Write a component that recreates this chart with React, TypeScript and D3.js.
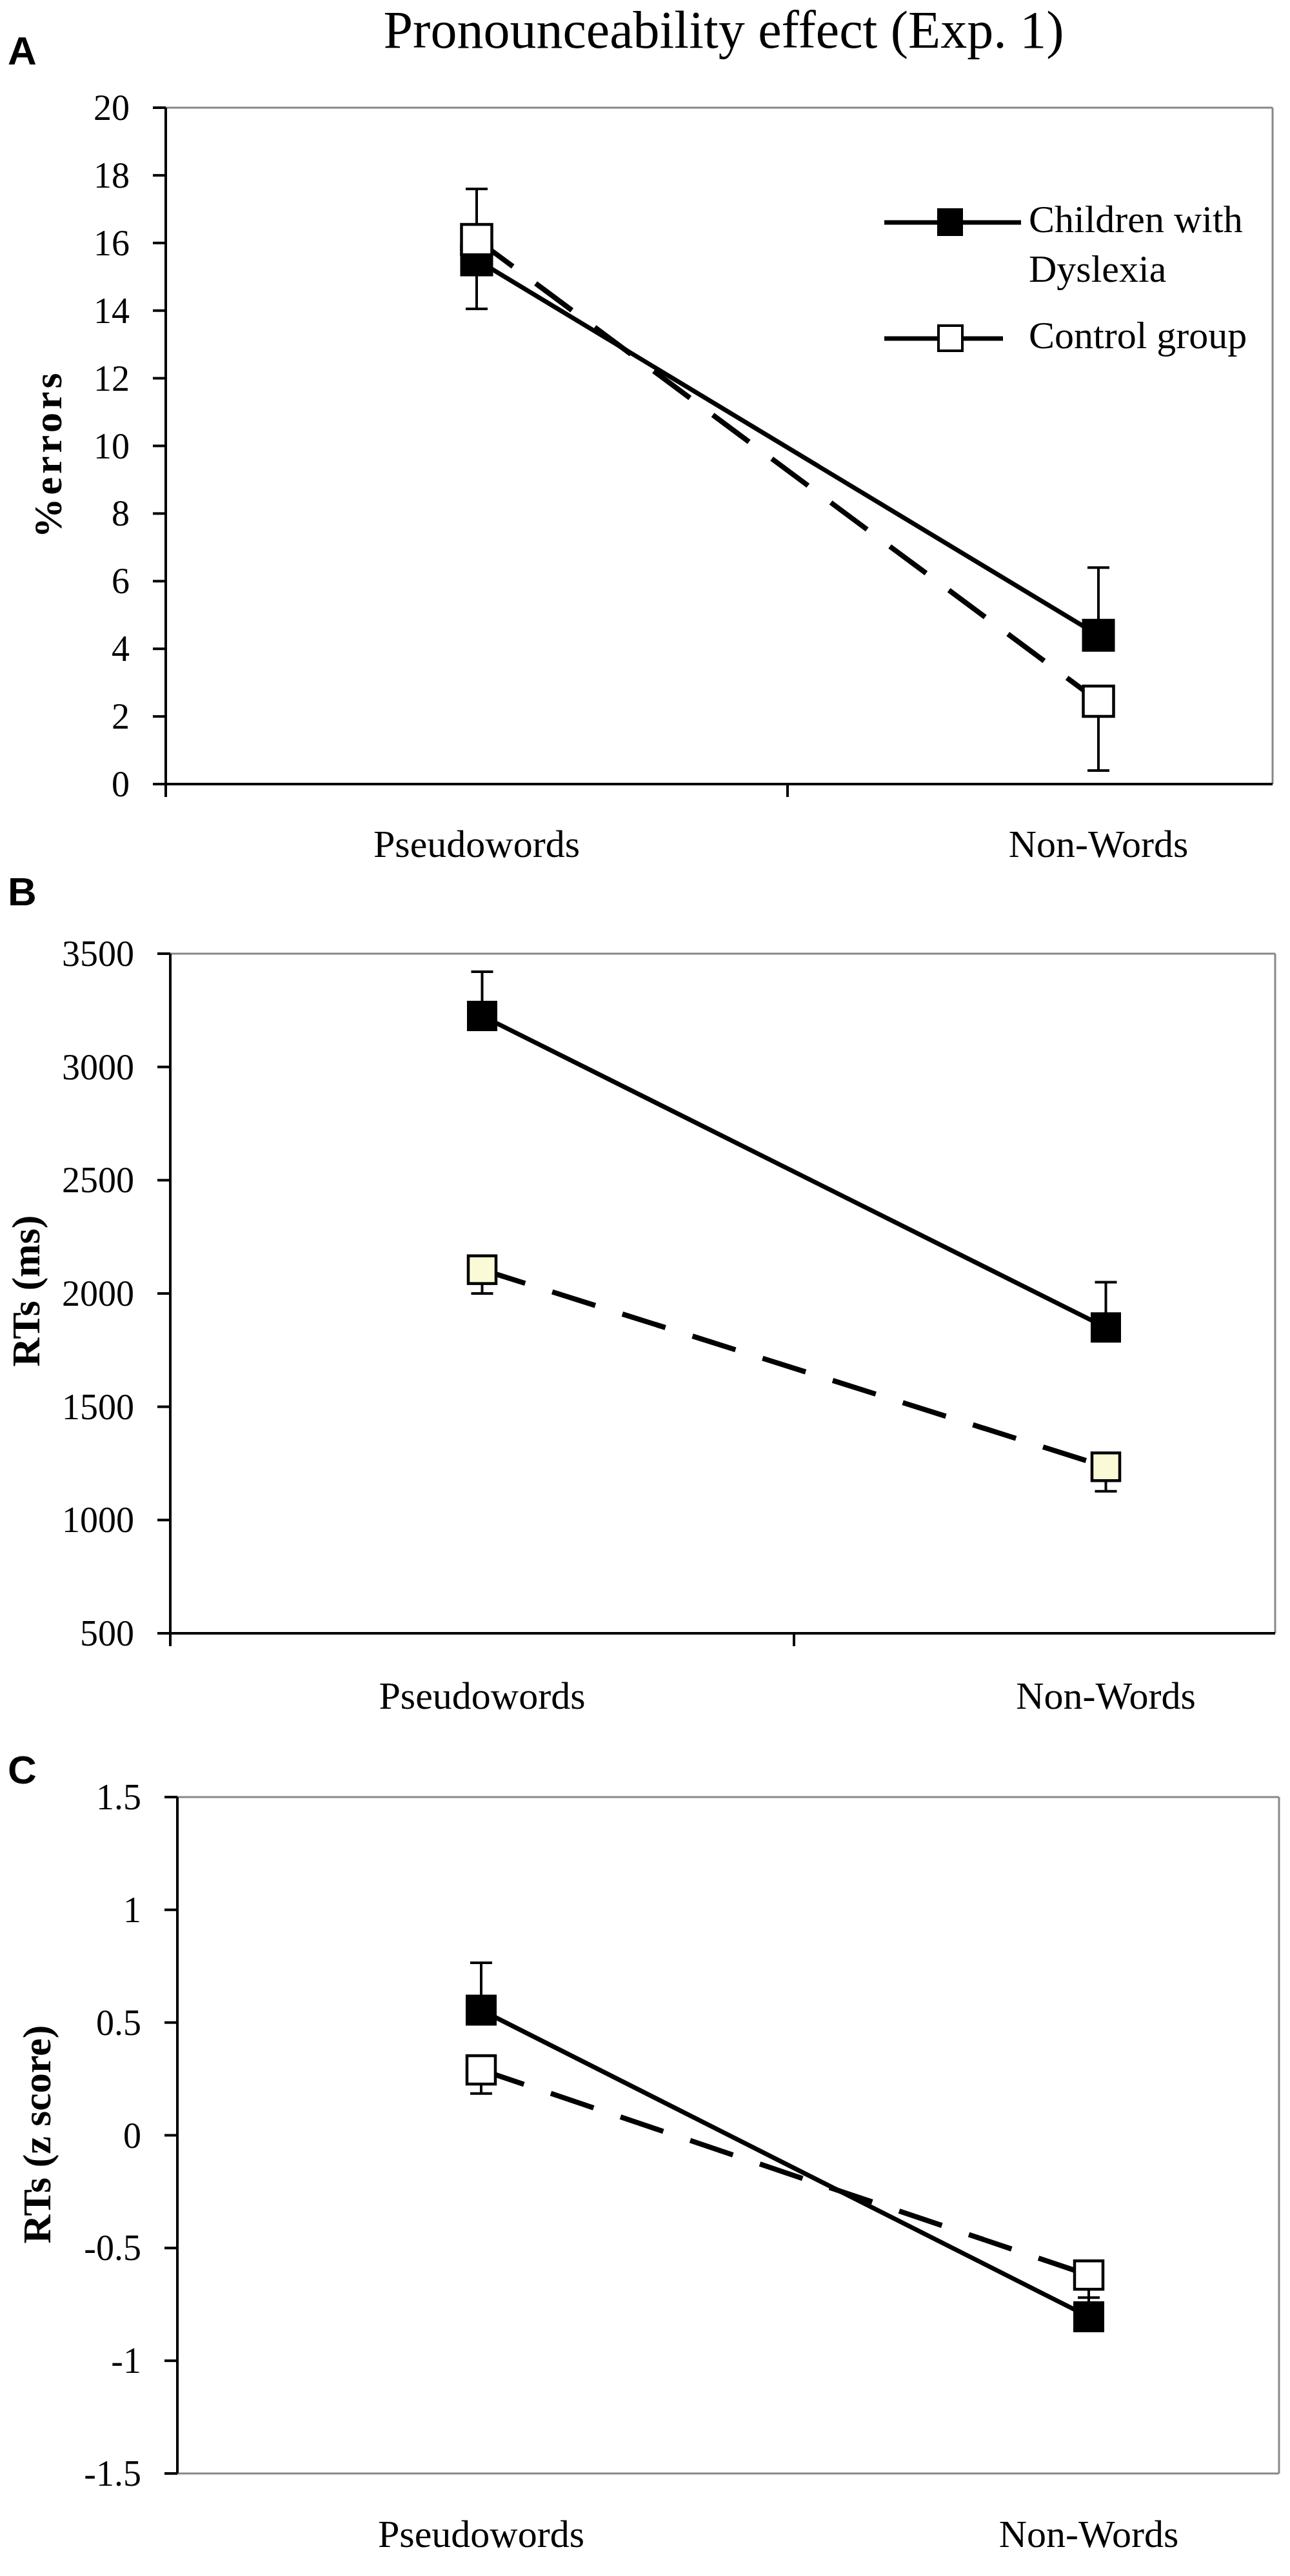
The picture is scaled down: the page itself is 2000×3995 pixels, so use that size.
import React from "react";
import * as d3 from "d3";

// ---------- data ----------
const categories = ["Pseudowords", "Non-Words"];
const chartTitle = "Pronounceability effect (Exp. 1)";
const legendDyslexiaLines = ["Children with", "Dyslexia"];
const legendControl = "Control group";

// Panel A: % errors
const errorsDyslexia = [15.5, 4.4];
const errorsDyslexiaPlus = [2.1, 2.0];
const errorsControl = [16.1, 2.45];
const errorsControlMinus = [2.05, 2.05];
const errorsTicks = [0, 2, 4, 6, 8, 10, 12, 14, 16, 18, 20];

// Panel B: RTs (ms)
const rtDyslexia = [3225, 1850];
const rtDyslexiaPlus = [195, 200];
const rtControl = [2105, 1235];
const rtControlMinus = [105, 108];
const rtTicks = [500, 1000, 1500, 2000, 2500, 3000, 3500];

// Panel C: RTs (z score)
const zDyslexia = [0.555, -0.805];
const zDyslexiaPlus = [0.21, 0.145];
const zControl = [0.29, -0.62];
const zControlMinus = [0.105, 0.1];
const zTicks = [-1.5, -1, -0.5, 0, 0.5, 1, 1.5];

const SERIF = "'Liberation Serif', 'Times New Roman', serif";
const SANS = "'Liberation Sans', Arial, sans-serif";

type PanelCfg = {
  letter: string;
  letterY: number;
  yTitle: string;
  yTitleX: number;
  yTitleY: number;
  yTitleSpacing: number;
  domain: [number, number];
  yBottom: number;
  yTop: number;
  xLeft: number;
  xRight: number;
  halfStep: number;
  catTicks: boolean;
  labelBaseline: number;
  ticks: number[];
  dys: number[];
  dysPlus: number[];
  ctl: number[];
  ctlMinus: number[];
  ctlFill: string;
  marker: number;
  legend: boolean;
};

const panels: PanelCfg[] = [
  {
    letter: "A", letterY: 100, yTitle: "%errors", yTitleX: 74, yTitleY: 704, yTitleSpacing: 5,
    domain: [0, 20], yBottom: 1216, yTop: 167, xLeft: 257, xRight: 1973, halfStep: 482,
    catTicks: true, labelBaseline: 1329, ticks: errorsTicks,
    dys: errorsDyslexia, dysPlus: errorsDyslexiaPlus, ctl: errorsControl, ctlMinus: errorsControlMinus,
    ctlFill: "#ffffff", marker: 51, legend: true,
  },
  {
    letter: "B", letterY: 1404, yTitle: "RTs (ms)", yTitleX: 40, yTitleY: 2002, yTitleSpacing: 0,
    domain: [500, 3500], yBottom: 2533, yTop: 1479, xLeft: 264, xRight: 1977, halfStep: 483.5,
    catTicks: true, labelBaseline: 2650, ticks: rtTicks,
    dys: rtDyslexia, dysPlus: rtDyslexiaPlus, ctl: rtControl, ctlMinus: rtControlMinus,
    ctlFill: "#fafad6", marker: 47, legend: false,
  },
  {
    letter: "C", letterY: 2766, yTitle: "RTs (z score)", yTitleX: 57, yTitleY: 3310, yTitleSpacing: 0,
    domain: [-1.5, 1.5], yBottom: 3836, yTop: 2787, xLeft: 275, xRight: 1983, halfStep: 471,
    catTicks: false, labelBaseline: 3950, ticks: zTicks,
    dys: zDyslexia, dysPlus: zDyslexiaPlus, ctl: zControl, ctlMinus: zControlMinus,
    ctlFill: "#ffffff", marker: 48, legend: false,
  },
];

function Panel({ p }: { p: PanelCfg }) {
  const y = d3.scaleLinear().domain(p.domain).range([p.yBottom, p.yTop]);
  const x = d3
    .scaleBand<string>()
    .domain(categories)
    .range([p.xLeft, p.xLeft + 4 * p.halfStep])
    .paddingInner(0)
    .paddingOuter(0);
  const cx = (c: string) => (x(c) as number) + x.bandwidth() / 2;
  const line = d3.line<[number, number]>().x((d) => d[0]).y((d) => d[1]);
  const fmt = (t: number) => String(t);

  const dysPts: [number, number][] = categories.map((c, i) => [cx(c), y(p.dys[i])]);
  const ctlPts: [number, number][] = categories.map((c, i) => [cx(c), y(p.ctl[i])]);
  const ms = p.marker;
  const cap = 17;

  const boundaries = [0, 1, 2]
    .map((k) => p.xLeft + k * 2 * p.halfStep)
    .filter((v) => v <= p.xRight);

  return (
    <g>
      <text x={12} y={p.letterY} fontFamily={SANS} fontWeight="bold" fontSize={62} fill="#000">
        {p.letter}
      </text>

      <line x1={p.xLeft} x2={p.xRight} y1={p.yTop} y2={p.yTop} stroke="#888" strokeWidth={3} />
      <line x1={p.xRight} x2={p.xRight} y1={p.yTop} y2={p.yBottom} stroke="#888" strokeWidth={3} />
      {!p.catTicks && (
        <line x1={p.xLeft} x2={p.xRight} y1={p.yBottom} y2={p.yBottom} stroke="#888" strokeWidth={3} />
      )}

      <line x1={p.xLeft} x2={p.xLeft} y1={p.yTop} y2={p.yBottom} stroke="#000" strokeWidth={4} />
      {p.ticks.map((t) => (
        <g key={t}>
          <line x1={p.xLeft - 20} x2={p.xLeft} y1={y(t)} y2={y(t)} stroke="#000" strokeWidth={4} />
          <text
            x={p.xLeft - 56}
            y={y(t)}
            dy="0.34em"
            textAnchor="end"
            fontFamily={SERIF}
            fontSize={56}
            fill="#000"
          >
            {fmt(t)}
          </text>
        </g>
      ))}

      {p.catTicks && (
        <g>
          <line x1={p.xLeft - 2} x2={p.xRight} y1={p.yBottom} y2={p.yBottom} stroke="#000" strokeWidth={4} />
          {boundaries.map((b) => (
            <line key={b} x1={b} x2={b} y1={p.yBottom} y2={p.yBottom + 20} stroke="#000" strokeWidth={4} />
          ))}
        </g>
      )}
      {categories.map((c) => (
        <text
          key={c}
          x={cx(c)}
          y={p.labelBaseline}
          textAnchor="middle"
          fontFamily={SERIF}
          fontSize={60}
          fill="#000"
        >
          {c}
        </text>
      ))}

      <text
        transform={`translate(${p.yTitleX},${p.yTitleY}) rotate(-90)`}
        textAnchor="middle"
        dominantBaseline="central"
        fontFamily={SERIF}
        fontWeight="bold"
        fontSize={62}
        letterSpacing={p.yTitleSpacing}
        fill="#000"
      >
        {p.yTitle}
      </text>

      <path d={line(dysPts) || ""} fill="none" stroke="#000" strokeWidth={7} />
      {categories.map((c, i) => {
        const xc = cx(c);
        const yTopErr = y(p.dys[i] + p.dysPlus[i]);
        return (
          <g key={"d" + c}>
            <line x1={xc} x2={xc} y1={y(p.dys[i])} y2={yTopErr} stroke="#000" strokeWidth={4} />
            <line x1={xc - cap} x2={xc + cap} y1={yTopErr} y2={yTopErr} stroke="#000" strokeWidth={4} />
            <rect x={xc - ms / 2} y={y(p.dys[i]) - ms / 2} width={ms} height={ms} fill="#000" />
          </g>
        );
      })}

      <path
        d={line(ctlPts) || ""}
        fill="none"
        stroke="#000"
        strokeWidth={8}
        strokeDasharray="70 44"
      />
      {categories.map((c, i) => {
        const xc = cx(c);
        const yBotErr = y(p.ctl[i] - p.ctlMinus[i]);
        return (
          <g key={"c" + c}>
            <line x1={xc} x2={xc} y1={y(p.ctl[i])} y2={yBotErr} stroke="#000" strokeWidth={4} />
            <line x1={xc - cap} x2={xc + cap} y1={yBotErr} y2={yBotErr} stroke="#000" strokeWidth={4} />
            <rect
              x={xc - ms / 2 + 2}
              y={y(p.ctl[i]) - ms / 2 + 2}
              width={ms - 4}
              height={ms - 4}
              fill={p.ctlFill}
              stroke="#000"
              strokeWidth={4.5}
            />
          </g>
        );
      })}

      {p.legend && (
        <g>
          <line x1={1371} x2={1583} y1={345} y2={345} stroke="#000" strokeWidth={7} />
          <rect x={1453} y={323} width={40} height={43} fill="#000" />
          <text x={1595} y={360} fontFamily={SERIF} fontSize={60} fill="#000">
            {legendDyslexiaLines[0]}
          </text>
          <text x={1595} y={437} fontFamily={SERIF} fontSize={60} fill="#000">
            {legendDyslexiaLines[1]}
          </text>
          <line x1={1371} x2={1555} y1={525} y2={525} stroke="#000" strokeWidth={7} />
          <rect x={1455} y={505} width={37} height={39} fill="#fff" stroke="#000" strokeWidth={4} />
          <text x={1595} y={540} fontFamily={SERIF} fontSize={60} fill="#000">
            {legendControl}
          </text>
        </g>
      )}
    </g>
  );
}

export default function App() {
  return (
    <svg
      width={2000}
      height={3995}
      viewBox="0 0 2000 3995"
      style={{ position: "absolute", left: 0, top: 0, background: "#fff" }}
    >
      <rect x={0} y={0} width={2000} height={3995} fill="#fff" />
      <text x={1122} y={74} textAnchor="middle" fontFamily={SERIF} fontSize={82} fill="#000">
        {chartTitle}
      </text>
      {panels.map((p) => (
        <Panel key={p.letter} p={p} />
      ))}
    </svg>
  );
}
